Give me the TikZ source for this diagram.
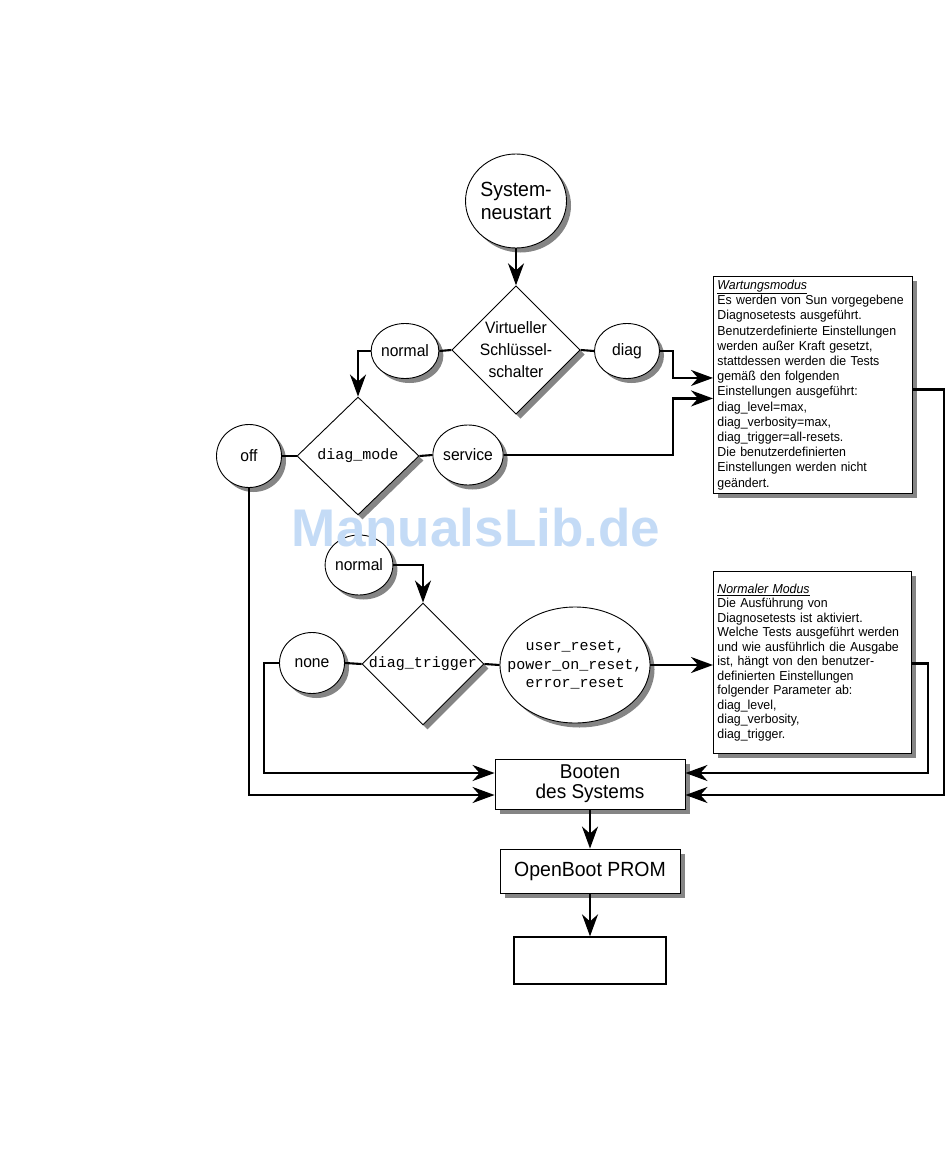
\documentclass[tikz,border=0pt]{standalone}
\usepackage{fontspec}
\setmainfont{Liberation Sans}[FakeStretch=0.95]
\setmonofont{Liberation Mono}
\newfontfamily\wmfont{Liberation Sans}
\usetikzlibrary{shapes.geometric,arrows.meta,shadows,calc}
\begin{document}
\begin{tikzpicture}[x=1pt,y=-1pt,
  shad/.style={drop shadow={shadow xshift=4.5pt,shadow yshift=-4.5pt,fill=black!48,opacity=1}},
  base/.style={draw,line width=0.9pt,fill=white,shad,inner sep=0pt,align=center},
  term/.style={base,ellipse},
  decision/.style={base,diamond},
  stepbox/.style={base,rectangle},
  note/.style={base,rectangle,align=left,inner xsep=4pt,inner ysep=0pt,anchor=north west},
  conn/.style={line width=2.1pt},
  arr/.style={conn,-{Stealth[length=22pt,width=16pt,inset=7pt]}},
  big/.style={font=\fontsize{20.5}{23}\selectfont},
  mid/.style={font=\fontsize{16.5}{22}\selectfont},
  mono/.style={font=\ttfamily\fontsize{15}{18.5}\selectfont},
  notefont/.style={font=\fontsize{13}{#1}\selectfont},
]
\useasboundingbox (0,0) rectangle (950,1161);

% nodes
\node[term,big,minimum width=96pt,minimum height=94pt] (sys) at (516,201) {System-\\neustart};
\node[decision,mid,minimum width=124pt,minimum height=120pt] (vs) at (516,350) {Virtueller\\Schlüssel-\\schalter};
\node[term,mid,minimum width=65pt,minimum height=55pt] (n1) at (405,351) {normal};
\node[term,mid,minimum width=65pt,minimum height=55pt] (diag) at (627,351) {diag};
\node[decision,mono,minimum width=122pt,minimum height=118pt] (dm) at (358,456) {diag\_mode};
\node[term,mid,minimum width=65pt,minimum height=63pt] (off) at (249,456) {off};
\node[term,mid,minimum width=64pt,minimum height=60pt] (svc) at (468,455) {service};
\node[term,mid,minimum width=65pt,minimum height=60pt] (n2) at (359,565) {normal};
\node[decision,mono,minimum width=122pt,minimum height=120pt] (dt) at (423,664) {diag\_trigger};
\node[term,mid,minimum width=65pt,minimum height=61pt] (none) at (312,663) {none};
\node[term,mono,inner xsep=-21pt,inner ysep=0pt,minimum width=150pt,minimum height=116pt] (ur) at (575,665) {user\_reset,\\power\_on\_reset,\\error\_reset};

\node[note,notefont=15.2,text width=191pt,minimum height=217pt] (wb) at (713,276) {\underline{\textit{Wartungsmodus}}\\
Es werden von Sun vorgegebene\\
Diagnosetests ausgeführt.\\
Benutzerdefinierte Einstellungen\\
werden außer Kraft gesetzt,\\
stattdessen werden die Tests\\
gemäß den folgenden\\
Einstellungen ausgeführt:\\
diag\_level=max,\\
diag\_verbosity=max,\\
diag\_trigger=all-resets.\\
Die benutzerdefinierten\\
Einstellungen werden nicht\\
geändert.};

\node[note,notefont=14.5,text width=190pt,minimum height=182pt] (nb) at (713,571) {\underline{\textit{Normaler Modus}}\\
Die Ausführung von\\
Diagnosetests ist aktiviert.\\
Welche Tests ausgeführt werden\\
und wie ausführlich die Ausgabe\\
ist, hängt von den benutzer-\\
definierten Einstellungen\\
folgender Parameter ab:\\
diag\_level,\\
diag\_verbosity,\\
diag\_trigger.};

\node[stepbox,font=\fontsize{20}{20}\selectfont,minimum width=190pt,minimum height=50pt] (boot) at (590,784) {Booten\\des Systems};
\node[stepbox,font=\fontsize{20.5}{20}\selectfont,minimum width=180pt,minimum height=44pt] (obp) at (590,871) {OpenBoot PROM};
\node[draw,line width=1.3pt,fill=white,minimum width=152pt,minimum height=47pt] (last) at (590,960.5) {};

% connectors
\draw[arr] (sys.south) -- (vs.north);
\draw[conn] (vs.west) -- (n1.east);
\draw[conn] (vs.east) -- (diag.west);
\draw[arr] (n1.west) -| (dm.north);
\draw[arr] (diag.east) -| ([xshift=-40pt,yshift=7pt]wb.west) -- ([yshift=7pt]wb.west);
\draw[conn] (dm.west) -- (off.east);
\draw[conn] (dm.east) -- (svc.west);
\draw[arr] (svc.east) -| ([xshift=-40pt,yshift=-13.5pt]wb.west) -- ([yshift=-13.5pt]wb.west);
\draw[arr] (n2.east) -| (dt.north);
\draw[conn] (dt.west) -- (none.east);
\draw[conn] (dt.east) -- (ur.west);
\draw[arr] (ur.east) -- (nb.west |- ur.east);
\draw[arr] (none.west) -- ++(-15,0) |- ([yshift=11pt]boot.west);
\draw[arr] (off.south) |- ([yshift=-11pt]boot.west);
\draw[arr] ([yshift=-1pt]nb.east) -- ++(16,0) |- ([yshift=11pt]boot.east);
\draw[arr] ([yshift=-4.5pt]wb.east) -- ++(31,0) |- ([yshift=-11pt]boot.east);
\draw[arr] (boot.south) -- (obp.north);
\draw[arr] (obp.south) -- (last.north);

% watermark
\node[font=\wmfont\bfseries\fontsize{53}{53}\selectfont,text={rgb,255:red,196;green,219;blue,246}] (wm) at (476,528) {ManualsLib.de};
\end{tikzpicture}
\end{document}
